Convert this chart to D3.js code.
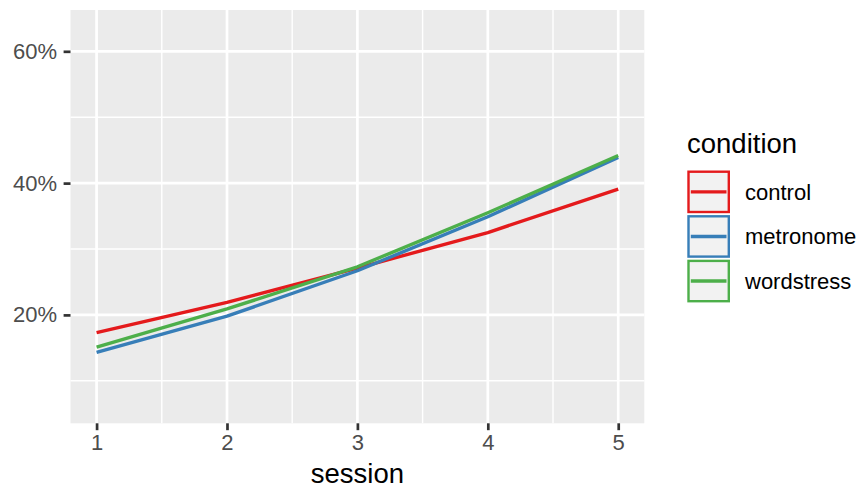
<!DOCTYPE html>
<html>
<head>
<meta charset="utf-8">
<script src="https://cdn.jsdelivr.net/npm/d3@7"></script>
<style>
  html, body { margin: 0; padding: 0; background: #fff; }
  svg { display: block; font-family: "Liberation Sans", Arial, Helvetica, sans-serif; }
</style>
</head>
<body>
<svg id="chart" width="862" height="489"></svg>
<script>
const sessions = [1, 2, 3, 4, 5];
const conditions = ["control", "metronome", "wordstress"];
const controlValues    = [0.173, 0.219, 0.271, 0.325, 0.391];
const metronomeValues  = [0.143, 0.198, 0.267, 0.349, 0.439];
const wordstressValues = [0.151, 0.209, 0.273, 0.355, 0.442];
const colors = ["#E41A1C", "#377EB8", "#4DAF4A"];
const yMajorTicks = [0.2, 0.4, 0.6];
const yMinorTicks = [0.1, 0.3, 0.5];
const xMinorTicks = [1.5, 2.5, 3.5, 4.5];
const xTitle = "session";
const legendTitle = "condition";

const seriesValues = [controlValues, metronomeValues, wordstressValues];

const svg = d3.select("#chart");
const panel = { left: 70.5, right: 644.3, top: 10, bottom: 423.3 };

const x = d3.scaleLinear().domain([0.8, 5.2]).range([panel.left, panel.right]);
const y = d3.scaleLinear().domain([0.0355, 0.6627]).range([panel.bottom, panel.top]);

// panel background
svg.append("rect")
  .attr("x", panel.left).attr("y", panel.top)
  .attr("width", panel.right - panel.left).attr("height", panel.bottom - panel.top)
  .attr("fill", "#EBEBEB");

const grid = svg.append("g");
// minor grid
grid.selectAll(".ymin").data(yMinorTicks).enter().append("line")
  .attr("x1", panel.left).attr("x2", panel.right)
  .attr("y1", d => y(d)).attr("y2", d => y(d))
  .attr("stroke", "#fff").attr("stroke-width", 1.4);
grid.selectAll(".xmin").data(xMinorTicks).enter().append("line")
  .attr("y1", panel.top).attr("y2", panel.bottom)
  .attr("x1", d => x(d)).attr("x2", d => x(d))
  .attr("stroke", "#fff").attr("stroke-width", 1.4);
// major grid
grid.selectAll(".ymaj").data(yMajorTicks).enter().append("line")
  .attr("x1", panel.left).attr("x2", panel.right)
  .attr("y1", d => y(d)).attr("y2", d => y(d))
  .attr("stroke", "#fff").attr("stroke-width", 2.7);
grid.selectAll(".xmaj").data(sessions).enter().append("line")
  .attr("y1", panel.top).attr("y2", panel.bottom)
  .attr("x1", d => x(d)).attr("x2", d => x(d))
  .attr("stroke", "#fff").attr("stroke-width", 2.7);

// lines
const line = d3.line().x((d, i) => x(sessions[i])).y(d => y(d));
seriesValues.forEach((vals, i) => {
  svg.append("path")
    .datum(vals)
    .attr("d", line)
    .attr("fill", "none")
    .attr("stroke", colors[i])
    .attr("stroke-width", 3.4)
    .attr("stroke-linejoin", "round");
});

// axes
const xAxis = d3.axisBottom(x).tickValues(sessions).tickSize(6.9).tickPadding(4).tickFormat(d3.format("d"));
const gx = svg.append("g").attr("transform", `translate(0,${panel.bottom})`).call(xAxis);
gx.select(".domain").remove();
gx.selectAll(".tick line").attr("stroke", "#333333").attr("stroke-width", 2.7);
gx.selectAll(".tick text").attr("fill", "#4D4D4D").style("font-size", "22px")
  .attr("font-family", "Liberation Sans, Arial, sans-serif");

const yAxis = d3.axisLeft(y).tickValues(yMajorTicks).tickSize(6.9).tickPadding(6.5).tickFormat(d3.format(".0%"));
const gy = svg.append("g").attr("transform", `translate(${panel.left},0)`).call(yAxis);
gy.select(".domain").remove();
gy.selectAll(".tick line").attr("stroke", "#333333").attr("stroke-width", 2.7);
gy.selectAll(".tick text").attr("fill", "#4D4D4D").style("font-size", "22px")
  .attr("font-family", "Liberation Sans, Arial, sans-serif");

// x title
svg.append("text")
  .attr("x", (panel.left + panel.right) / 2).attr("y", 483)
  .attr("text-anchor", "middle")
  .style("font-size", "27.5px").attr("fill", "#000")
  .text(xTitle);

// legend
const lg = svg.append("g");
lg.append("text").attr("x", 687).attr("y", 153)
  .style("font-size", "27.5px").attr("fill", "#000").text(legendTitle);
const keyTop = 170.5, keyPitch = 44.6, keyLeft = 687.3, keyW = 42.7, keyH = 42.7;
conditions.forEach((c, i) => {
  const ky = keyTop + i * keyPitch;
  lg.append("rect")
    .attr("x", keyLeft + 1.2).attr("y", ky + 1.2)
    .attr("width", keyW - 2.4).attr("height", keyH - 2.4)
    .attr("fill", "#F2F2F2").attr("stroke", colors[i]).attr("stroke-width", 2.4);
  lg.append("line")
    .attr("x1", keyLeft + 3.5).attr("x2", keyLeft + keyW - 3.5)
    .attr("y1", ky + keyH / 2).attr("y2", ky + keyH / 2)
    .attr("stroke", colors[i]).attr("stroke-width", 3.4);
  lg.append("text")
    .attr("x", 745).attr("y", ky + keyH / 2).attr("dy", "0.36em")
    .style("font-size", "22px").attr("fill", "#000").text(c);
});
</script>
</body>
</html>
